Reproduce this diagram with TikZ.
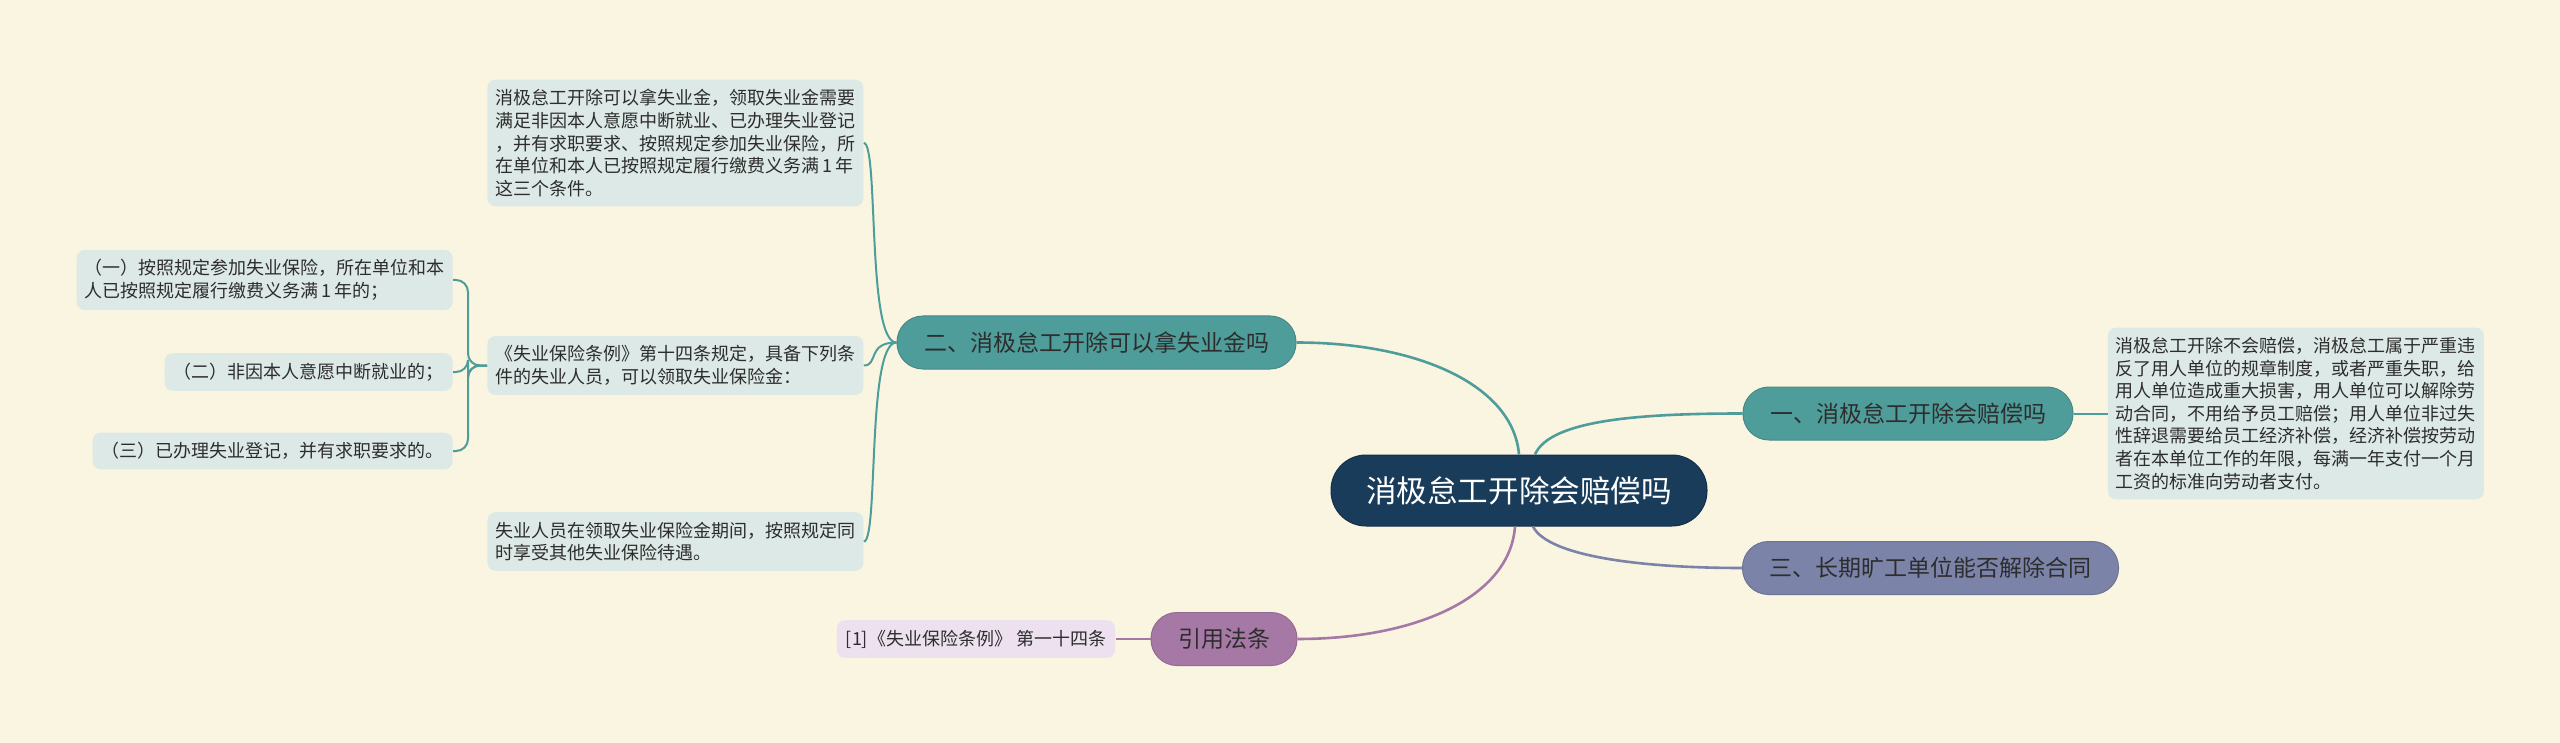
\documentclass[tikz,border=0pt]{standalone}
\usepackage{fontspec}
\setmainfont{Noto Sans CJK SC}
\usepackage{tikz}
\usetikzlibrary{positioning, calc}
\definecolor{mybg}{RGB}{250,245,225}
\definecolor{myroot}{RGB}{24,60,90}
\definecolor{myteal}{RGB}{79,157,155}
\definecolor{myslate}{RGB}{124,131,168}
\definecolor{myplum}{RGB}{166,120,166}
\definecolor{mytext}{RGB}{45,45,45}
\definecolor{hdrteal}{RGB}{221,233,230}
\definecolor{hdrplum}{RGB}{237,225,239}
\tikzset{
  rootnode/.style={rectangle, draw=myroot!80!black, fill=myroot, text=white,
    rounded corners=17.5pt, minimum height=35.5pt, inner xsep=17.5pt,
    font=\fontsize{15.3}{18}\selectfont, line width=0.5pt},
  topic/.style={rectangle, draw=#1!88!black, fill=#1, text=mytext,
    rounded corners=13pt, minimum height=26.5pt, inner xsep=13.5pt,
    font=\fontsize{11.5}{14}\selectfont, line width=0.5pt},
  leaf/.style={rectangle, fill=hdrteal, text=mytext, rounded corners=4pt,
    inner xsep=4.5pt, inner ysep=4.8pt, align=left,
    font=\fontsize{9}{11.3}\selectfont},
  refbox/.style={leaf, fill=hdrplum},
  link/.style={line width=1.3pt, color=#1},
  leaflink/.style={line width=1pt, color=myteal}
}
\begin{document}
\begin{tikzpicture}[x=0.5pt, y=-0.5pt, node distance=17pt,
  wideleaf/.style={leaf, text width=180pt, inner xsep=4pt}]
  \fill[mybg] (0,0) rectangle (2560,743);
  \useasboundingbox (0,0) rectangle (2560,743);
  % centre and branches
  \node[rootnode] (root) at (1519,490.5) {消极怠工开除会赔偿吗};
  \node[topic=myteal] (q1) at (1908,413.5) {一、消极怠工开除会赔偿吗};
  \node[topic=myteal] (q2) at (1096.5,342.5) {二、消极怠工开除可以拿失业金吗};
  \node[topic=myslate] (q3) at (1930.5,568) {三、长期旷工单位能否解除合同};
  \node[topic=myplum] (law) at (1224,639) {引用法条};
  % leaves
  \node[wideleaf, right=of q1] (b1) {消极怠工开除不会赔偿，消极怠工属于严重违\\
    反了用人单位的规章制度，或者严重失职，给\\
    用人单位造成重大损害，用人单位可以解除劳\\
    动合同，不用给予员工赔偿；用人单位非过失\\
    性辞退需要给员工经济补偿，经济补偿按劳动\\
    者在本单位工作的年限，每满一年支付一个月\\
    工资的标准向劳动者支付。};
  \node[wideleaf, anchor=west] (a1) at (487,143) {消极怠工开除可以拿失业金，领取失业金需要\\
    满足非因本人意愿中断就业、已办理失业登记\\
    ，并有求职要求、按照规定参加失业保险，所\\
    在单位和本人已按照规定履行缴费义务满\,1\,年\\
    这三个条件。};
  \node[wideleaf, anchor=west] (rule) at (487,365.5) {《失业保险条例》第十四条规定，具备下列条\\
    件的失业人员，可以领取失业保险金：};
  \node[wideleaf, anchor=west] (a2) at (487,541.5) {失业人员在领取失业保险金期间，按照规定同\\
    时享受其他失业保险待遇。};
  \node[wideleaf, anchor=east] (i1) at (453,280) {（一）按照规定参加失业保险，所在单位和本\\
    人已按照规定履行缴费义务满\,1\,年的；};
  \node[leaf, anchor=east] (i2) at (453,372) {（二）非因本人意愿中断就业的；};
  \node[leaf, anchor=east] (i3) at (453,451) {（三）已办理失业登记，并有求职要求的。};
  \node[refbox, left=17.5pt of law] (ref) {[1]《失业保险条例》 第一十四条};
  % connectors
  \draw[link=myteal] (root.north) .. controls +(-6,-70) and +(120,0) .. (q2.east);
  \draw[link=myteal] ([xshift=8pt]root.north) .. controls +(15,-35) and +(-100,0) .. (q1.west);
  \draw[link=myslate] ([xshift=7pt]root.south) .. controls +(15,30) and +(-100,0) .. (q3.west);
  \draw[link=myplum] ([xshift=-2pt]root.south) .. controls +(-5,70) and +(120,0) .. (law.east);
  \draw[leaflink] (q1.east) -- (b1.west);
  \draw[leaflink] (q2.west) .. controls +(-30,0) and +(15,0) .. (a1.east);
  \draw[leaflink] (q2.west) .. controls +(-30,0) and +(15,0) .. (rule.east);
  \draw[leaflink] (q2.west) .. controls +(-30,0) and +(15,0) .. (a2.east);
  \draw[leaflink, rounded corners=6pt] (rule.west) -- ++(-19,0) |- (i1.east);
  \draw[leaflink, rounded corners=6pt] (rule.west) -- ++(-19,0) |- (i2.east);
  \draw[leaflink, rounded corners=6pt] (rule.west) -- ++(-19,0) |- (i3.east);
  \draw[link=myplum, line width=1pt] (law.west) -- (ref.east);
\end{tikzpicture}
\end{document}
